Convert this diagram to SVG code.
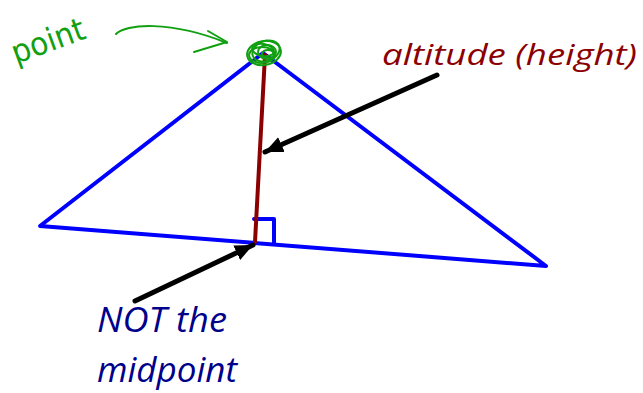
<svg xmlns="http://www.w3.org/2000/svg" width="643" height="393" viewBox="0 0 643 393">
<style>
.tri{fill:none;stroke:#0000ff;stroke-width:4;stroke-linejoin:round;stroke-linecap:round}
.alt{stroke:#8b0000;stroke-width:4;stroke-linecap:round}
.arr{stroke:#000;stroke-width:5;stroke-linecap:round;fill:none}
.green{fill:none;stroke:#11a011;stroke-width:2;stroke-linecap:round;stroke-linejoin:round}
.lbl{font-family:"Open Sans","Liberation Sans",sans-serif;font-style:italic}
</style>
<defs>
<marker id="ah" markerUnits="userSpaceOnUse" markerWidth="22" markerHeight="20" refX="18" refY="10" orient="auto">
<path d="M0,2 L18,10 L0,18 Z" fill="#000"/>
</marker>
</defs>
<rect width="643" height="393" fill="#fff"/>
<g id="triangle">
<path class="tri" d="M40,226 L263,53 L546,266 Z"/>
<path class="tri" d="M254,219 H274 V243"/>
</g>
<g id="altitude">
<line class="alt" x1="265" y1="55" x2="255" y2="242"/>
</g>
<g id="apex-point">
<ellipse class="green" cx="264" cy="53" rx="17" ry="12" transform="rotate(-10 264 53)"/>
<ellipse class="green" cx="266" cy="51" rx="14" ry="10" transform="rotate(-20 266 51)"/>
<ellipse class="green" cx="262" cy="55" rx="13" ry="8"/>
<ellipse class="green" cx="267" cy="52" rx="9" ry="7"/>
<ellipse class="green" cx="263" cy="50" rx="11" ry="6" transform="rotate(10 263 50)"/>
<ellipse class="green" cx="268" cy="54" rx="6" ry="4"/>
</g>
<g id="label-point">
<text x="16" y="64" transform="rotate(-20 16 64)" font-family="'DejaVu Sans',sans-serif" font-size="32" fill="#11a011" textLength="76" lengthAdjust="spacingAndGlyphs">point</text>
</g>
<g id="label-altitude">
<text class="lbl" x="382" y="65" font-size="30" fill="#8b0000" textLength="255" lengthAdjust="spacingAndGlyphs">altitude (height)</text>
</g>
<g id="label-not-midpoint">
<text class="lbl" x="97" y="332" font-size="34" fill="#00008b" textLength="130" lengthAdjust="spacingAndGlyphs">NOT the</text>
<text class="lbl" x="97" y="382" font-size="34" fill="#00008b" textLength="140" lengthAdjust="spacingAndGlyphs">midpoint</text>
</g>
<g id="connectors">
<line class="arr" x1="437" y1="75" x2="265" y2="152" marker-end="url(#ah)"/>
<line class="arr" x1="135" y1="301" x2="253" y2="245" marker-end="url(#ah)"/>
<path class="green" d="M116,34 C125,24 170,20 227,43"/>
<path class="green" d="M208,31 L227,42 L194,52"/>
</g>
</svg>
